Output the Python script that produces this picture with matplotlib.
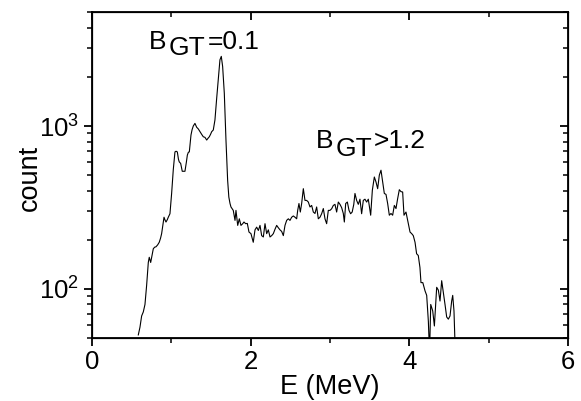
import matplotlib
matplotlib.use("Agg")
import matplotlib.pyplot as plt
import numpy as np

plt.rcParams['font.family'] = ['Liberation Sans', 'DejaVu Sans']
plt.rcParams['mathtext.fontset'] = 'custom'
plt.rcParams['mathtext.rm'] = 'Liberation Sans'
plt.rcParams['mathtext.default'] = 'regular'

# Spectrum: energy (MeV) and counts
energy = [0.584, 0.605, 0.626, 0.647, 0.668, 0.689, 0.710, 0.722, 0.740, 0.757,
          0.773, 0.790, 0.807, 0.828, 0.848, 0.865, 0.878, 0.895, 0.908, 0.920,
          0.933, 0.950, 0.962, 0.983, 1.004, 1.025, 1.046, 1.060, 1.076, 1.090,
          1.100, 1.118, 1.138, 1.155, 1.172, 1.190, 1.202, 1.215, 1.227, 1.248,
          1.262, 1.277, 1.298, 1.320, 1.340, 1.361, 1.382, 1.403, 1.424, 1.446,
          1.462, 1.479, 1.495, 1.509, 1.529, 1.550, 1.572, 1.592, 1.613, 1.630,
          1.647, 1.668, 1.689, 1.710, 1.725, 1.740, 1.752, 1.781, 1.803, 1.815,
          1.837, 1.857, 1.878, 1.900, 1.916, 1.937, 1.958, 1.979, 2.004, 2.033,
          2.055, 2.076, 2.097, 2.118, 2.139, 2.160, 2.181, 2.202, 2.223, 2.244,
          2.265, 2.286, 2.307, 2.328, 2.349, 2.370, 2.391, 2.412, 2.433, 2.454,
          2.475, 2.496, 2.517, 2.538, 2.559, 2.580, 2.593, 2.609, 2.626, 2.643,
          2.664, 2.685, 2.706, 2.727, 2.748, 2.769, 2.790, 2.811, 2.832, 2.853,
          2.874, 2.895, 2.916, 2.937, 2.958, 2.979, 3.000, 3.021, 3.042, 3.063,
          3.084, 3.105, 3.126, 3.147, 3.168, 3.181, 3.198, 3.219, 3.240, 3.260,
          3.280, 3.300, 3.315, 3.336, 3.357, 3.378, 3.399, 3.420, 3.441, 3.462,
          3.483, 3.513, 3.534, 3.559, 3.580, 3.601, 3.622, 3.643, 3.664, 3.685,
          3.706, 3.727, 3.748, 3.769, 3.790, 3.811, 3.832, 3.853, 3.874, 3.895,
          3.916, 3.933, 3.958, 3.987, 4.009, 4.030, 4.050, 4.072, 4.092, 4.113,
          4.134, 4.147, 4.170, 4.198, 4.219, 4.240, 4.255, 4.270, 4.295, 4.316,
          4.345, 4.366, 4.387, 4.408, 4.429, 4.450, 4.471, 4.492, 4.513, 4.534,
          4.547, 4.563, 4.580]
counts = [52, 58, 68, 72, 80, 105, 145, 156, 145, 160,
          176, 180, 181, 186, 193, 205, 218, 250, 275, 265,
          257, 266, 275, 289, 385, 540, 693, 700, 693, 625,
          602, 589, 527, 527, 527, 600, 662, 690, 693, 880,
          950, 1000, 1038, 982, 960, 923, 890, 859, 852, 820,
          840, 859, 890, 923, 945, 1089, 1483, 1923, 2551, 2680,
          2323, 1590, 820, 464, 366, 334, 318, 303, 263, 303,
          245, 269, 245, 251, 257, 251, 252, 223, 218, 193,
          230, 239, 228, 245, 212, 208, 251, 218, 230, 208,
          212, 218, 232, 245, 237, 230, 225, 212, 245, 263,
          269, 263, 275, 280, 275, 269, 303, 334, 296, 334,
          412, 349, 349, 341, 318, 325, 296, 290, 318, 269,
          275, 289, 311, 269, 251, 303, 303, 310, 325, 330,
          296, 341, 330, 315, 290, 257, 334, 341, 303, 289,
          296, 330, 385, 349, 330, 355, 289, 349, 355, 341,
          355, 283, 403, 486, 453, 412, 499, 535, 453, 385,
          380, 334, 283, 290, 283, 325, 311, 358, 406, 395,
          393, 283, 296, 251, 223, 218, 212, 193, 164, 160,
          135, 109, 109, 97, 91, 63, 40, 80, 73, 59,
          102, 98, 84, 112, 95, 80, 67, 65, 68, 84,
          91, 73, 40]

x_ticks = [0, 2, 4, 6]
x_minor = [1, 3, 5]

fig = plt.figure(figsize=(5.81, 4.01), dpi=100)
ax = fig.add_axes([0.1583, 0.1579, 0.8193, 0.8114])
ax.plot(energy, counts, color='black', lw=0.8)
ax.set_yscale('log')
ax.set_xlim(0, 6)
ax.set_ylim(50, 5000)
ax.set_xticks(x_ticks)
ax.set_xticks(x_minor, minor=True)
ax.set_xticklabels([str(t) for t in x_ticks])

for sp in ax.spines.values():
    sp.set_linewidth(1.3)
ax.tick_params(which='major', direction='out', length=6, width=1.3, labelsize=18.5, pad=3)
ax.tick_params(which='minor', direction='out', length=3.5, width=1.1)

# top / right ticks pointing inward
axr = ax.twinx()
axr.set_yscale('log')
axr.set_ylim(ax.get_ylim())
axr.tick_params(which='major', direction='in', length=6, width=1.3, labelright=False)
axr.tick_params(which='minor', direction='in', length=3.5, width=1.1)
axt = ax.twiny()
axt.set_xlim(ax.get_xlim())
axt.set_xticks(x_ticks)
axt.set_xticks(x_minor, minor=True)
axt.tick_params(which='major', direction='in', length=6, width=1.3, labeltop=False)
axt.tick_params(which='minor', direction='in', length=3.5, width=1.1)

ax.set_xlabel('E (MeV)', fontsize=19.5, labelpad=0)
ax.set_ylabel('count', fontsize=19.5)
ax.yaxis.set_label_coords(-0.103, 0.49)

fig.canvas.draw()
renderer = fig.canvas.get_renderer()
W, H = fig.bbox.width, fig.bbox.height

def sub_label(xf, yf, main, sub, rest, fs=19, drop=8):
    t1 = ax.text(xf, yf, main, transform=ax.transAxes, fontsize=fs, va='baseline', ha='left')
    fig.canvas.draw()
    b1 = t1.get_window_extent(renderer)
    y0 = ax.transAxes.transform((xf, yf))[1]
    t2 = fig.text((b1.x1 + 2) / W, (y0 - drop) / H, sub, fontsize=fs, va='baseline', ha='left')
    fig.canvas.draw()
    b2 = t2.get_window_extent(renderer)
    fig.text((b2.x1 + 2) / W, y0 / H, rest, fontsize=fs, va='baseline', ha='left')

sub_label(0.120, 0.886, 'B', 'GT', '=0.1', drop=6)
sub_label(0.470, 0.582, 'B', 'GT', '>1.2', drop=8)

fig.savefig('out.png', dpi=100)
